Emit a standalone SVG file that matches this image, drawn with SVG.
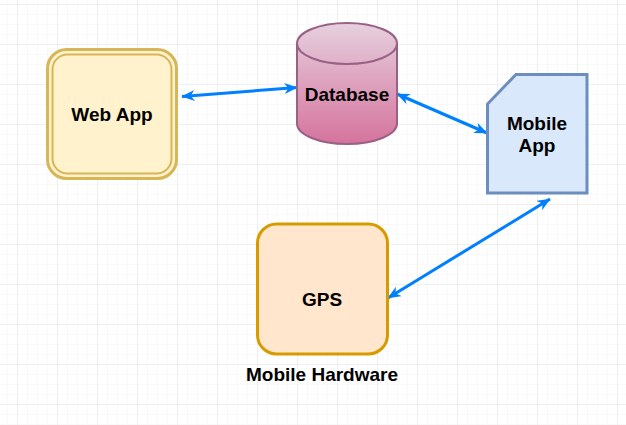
<svg xmlns="http://www.w3.org/2000/svg" width="626" height="425" viewBox="0 0 626 425">
<defs>
<pattern id="minor" x="7" y="4" width="10" height="10" patternUnits="userSpaceOnUse">
<path d="M0,0 H10 M0,0 V10" fill="none" stroke="#f3f3f3" stroke-width="1"/>
</pattern>
<pattern id="major" x="17" y="4" width="40" height="40" patternUnits="userSpaceOnUse">
<path d="M0,0 H40 M0,0 V40" fill="none" stroke="#e6e6e6" stroke-width="1"/>
</pattern>
<linearGradient id="dbgrad" x1="0" y1="0" x2="0" y2="1">
<stop offset="0" stop-color="#e6d0de"/>
<stop offset="1" stop-color="#d5739d"/>
</linearGradient>
<marker id="arr" viewBox="0 0 12 10" refX="11.5" refY="5" markerWidth="4.4" markerHeight="3.7" orient="auto-start-reverse" markerUnits="strokeWidth">
<path d="M0,0 L12,5 L0,10 L3.5,5 Z" fill="#007fff"/>
</marker>
<style>
text { font-family: "Liberation Sans", Arial, sans-serif; font-weight: bold; font-size: 19px; fill: #000; text-anchor: middle; }
.conn { fill: none; stroke: #007fff; stroke-width: 3; marker-start: url(#arr); marker-end: url(#arr); }
</style>
</defs>
<rect width="626" height="425" fill="#ffffff"/>
<rect width="626" height="425" fill="url(#minor)"/>
<rect width="626" height="425" fill="url(#major)"/>

<g id="connectors">
<line class="conn" x1="182" y1="96.5" x2="297" y2="87.5"/>
<line class="conn" x1="397" y1="94" x2="487" y2="133"/>
<line class="conn" x1="550" y1="199" x2="388" y2="298"/>
</g>

<g id="webapp">
<rect x="47.5" y="49.5" width="129" height="129" rx="19" fill="#fff2cc" stroke="#d6b656" stroke-width="3"/>
<rect x="52.5" y="54.5" width="119" height="119" rx="15" fill="#fff2cc" stroke="#d6b656" stroke-width="2"/>
<text x="112" y="121">Web App</text>
</g>

<g id="database">
<path d="M297,43.5 A50,20.5 0 0 1 397,43.5 V123.5 A50,20.5 0 0 1 297,123.5 Z" fill="url(#dbgrad)" stroke="#996185" stroke-width="2"/>
<path d="M297,43.5 A50,20.5 0 0 0 397,43.5" fill="none" stroke="#996185" stroke-width="2"/>
<text x="347" y="101">Database</text>
</g>

<g id="mobileapp">
<path d="M516,74.5 H587 V193 H487.5 V104 Z" fill="#dae8fc" stroke="#6c8ebf" stroke-width="3"/>
<text x="537" y="130">Mobile</text>
<text x="537" y="152">App</text>
</g>

<g id="gps">
<rect x="257.5" y="224" width="130" height="130" rx="19" fill="#ffe6cc" stroke="#d79b00" stroke-width="3"/>
<text x="322" y="306">GPS</text>
<text x="322" y="381">Mobile Hardware</text>
</g>
</svg>
